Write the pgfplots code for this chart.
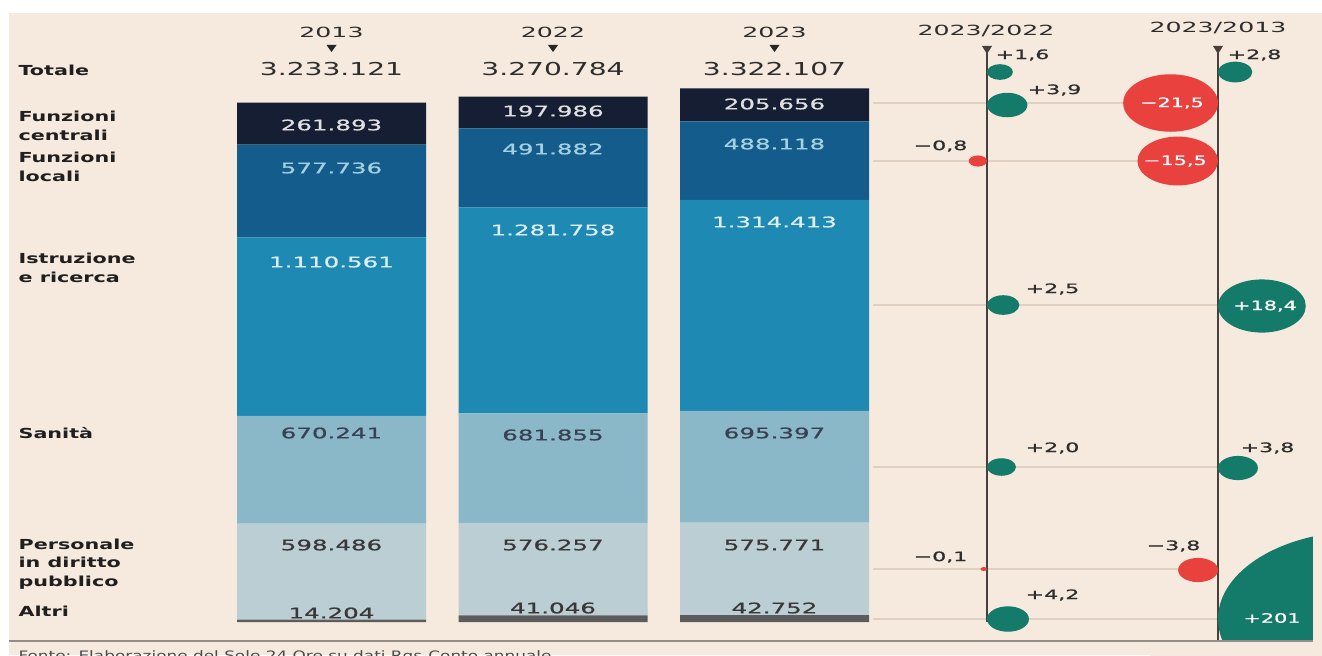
\documentclass[border=0pt]{standalone}
\usepackage{pgfplots}
\pgfplotsset{compat=1.18}
\usepackage{pgfplotstable}
\usepackage{fontspec}
\setmainfont{DejaVu Sans}
\newfontfamily\numfont[FakeBold=0.6]{DejaVu Sans}

\definecolor{bg}{RGB}{246,233,221}
\definecolor{cCentr}{RGB}{22,30,52}
\definecolor{cLoc}{RGB}{19,92,140}
\definecolor{cIstr}{RGB}{30,137,178}
\definecolor{cSan}{RGB}{138,184,200}
\definecolor{cPers}{RGB}{187,206,211}
\definecolor{cAltri}{RGB}{92,92,92}
\definecolor{tealc}{RGB}{20,122,106}
\definecolor{redc}{RGB}{232,65,62}
\definecolor{gridc}{RGB}{224,208,194}
\definecolor{axc}{RGB}{72,64,60}
\definecolor{txt}{RGB}{45,45,45}

% pixel -> point helper (1px = 0.5pt, y measured from top)
\newcommand{\px}[2]{({(#1)*0.5pt},{(655-(#2))*0.5pt})}

% elliptical bubble mark (the original graphic is stretched horizontally)
\pgfdeclareplotmark{ell}{%
  \pgfpathellipse{\pgfpointorigin}{\pgfqpoint{1.65\pgfplotmarksize}{0pt}}{\pgfqpoint{0pt}{\pgfplotmarksize}}%
  \pgfusepathqfill}

\pgfplotstableread{
x anno altri pers san istr loc centr
0 2013 14204 598486 670241 1110561 577736 261893
1 2022 41046 576257 681855 1281758 491882 197986
2 2023 42752 575771 695397 1314413 488118 205656
}\bars

% variations (%): column line position (px), row (px), value
\pgfplotstableread{
line y v
987 72 1.6
987 105 3.9
987 305 2.5
987 467 2.0
987 619 4.2
1218 72 2.8
1218 306 18.4
1218 468 3.8
1218 619 201
}\pospts
\pgfplotstableread{
line y v
987 161 -0.8
987 569 -0.1
1218 103 -21.5
1218 161 -15.5
1218 570 -3.8
}\negpts

\tikzset{
  yr/.style={font=\fontsize{7}{8}\selectfont, xscale=1.8, text=txt, inner sep=0pt},
  tot/.style={font=\fontsize{8.9}{10}\selectfont, xscale=1.58, text=txt, inner sep=0pt},
  rowlab/.style={font=\fontsize{6.9}{9.2}\selectfont\bfseries, xscale=1.5, anchor=west, align=left, text=black!88, inner sep=0pt},
  bl/.style={font=\fontsize{7.3}{8}\selectfont\numfont, xscale=1.68, inner sep=0pt},
  bub/.style={font=\fontsize{6.5}{7}\selectfont\numfont, xscale=1.7, anchor=west, text=txt, inner sep=0pt},
  bubin/.style={font=\fontsize{6.5}{7}\selectfont\numfont, xscale=1.6, text=white, inner sep=0pt},
}

\begin{document}
\begin{tikzpicture}
% background
\fill[white] \px{0}{0} rectangle \px{1322}{655};
\fill[bg] \px{9}{13} rectangle \px{1322}{655};

% horizontal guide lines
\foreach \yy in {103,161,305,467,569,619}{
  \draw[gridc, line width=0.8pt] \px{873}{\yy} -- \px{1218}{\yy};
}

% vertical reference lines with triangles
\draw[axc, line width=1pt] \px{987}{50} -- \px{987}{622};
\draw[axc, line width=1pt] \px{1218}{50} -- \px{1218}{641};
\fill[axc] \px{982}{46} -- \px{992}{46} -- \px{987}{54} -- cycle;
\fill[axc] \px{1213}{46} -- \px{1223}{46} -- \px{1218}{54} -- cycle;
\draw[axc, line width=0.6pt] \px{981}{569} -- \px{987}{569};

% header triangles
\foreach \cx in {331.5,553,774.5}{
  \fill[black!85] \px{\cx-5}{45} -- \px{\cx+5}{45} -- \px{\cx}{52} -- cycle;
}

% stacked bars
\begin{axis}[
  at={(110.375pt,16.5pt)}, anchor=south west,
  scale only axis, width=332.25pt, height=273.1pt,
  xmin=-0.5, xmax=2.5, ymin=0, ymax=3400000,
  hide axis, clip=false,
  ybar stacked, bar width=94.5pt,
]
\addplot[fill=cAltri, draw=none] table[x=x, y=altri] {\bars};
\addplot[fill=cPers, draw=none] table[x=x, y=pers] {\bars};
\addplot[fill=cSan, draw=none] table[x=x, y=san] {\bars};
\addplot[fill=cIstr, draw=none] table[x=x, y=istr] {\bars};
\addplot[fill=cLoc, draw=none] table[x=x, y=loc] {\bars};
\addplot[fill=cCentr, draw=none] table[x=x, y=centr] {\bars};
\end{axis}

% bubbles (pixel-unit axis)
\begin{axis}[
  at={(440pt,6.5pt)}, anchor=south west,
  scale only axis, width=270pt, height=314.5pt,
  xmin=880, xmax=1420, ymin=13, ymax=642, y dir=reverse,
  hide axis, clip=false,
]
\addplot[scatter, only marks, mark=ell,
  scatter/use mapped color={draw=none, fill=tealc},
  visualization depends on={3.1*sqrt(abs(\thisrow{v})) \as \msize},
  scatter/@pre marker code/.append style={/tikz/mark size=\msize}]
  table[x expr={\thisrow{line}+10.23*sqrt(abs(\thisrow{v}))}, y=y] {\pospts};
\addplot[scatter, only marks, mark=ell,
  scatter/use mapped color={draw=none, fill=redc},
  visualization depends on={3.1*sqrt(abs(\thisrow{v})) \as \msize},
  scatter/@pre marker code/.append style={/tikz/mark size=\msize}]
  table[x expr={\thisrow{line}-10.23*sqrt(abs(\thisrow{v}))}, y=y] {\negpts};
\end{axis}

% crop the large bubble as in the original
\fill[bg] \px{1313}{13} rectangle \px{1340}{700};
\fill[bg] \px{1150}{641} rectangle \px{1340}{700};
% footer separator
\draw[black!40!bg, line width=0.8pt] \px{9}{641} -- \px{1313}{641};

% ---------- texts ----------
% headers
\node[yr] at \px{331.5}{32} {2013};
\node[yr] at \px{553}{32} {2022};
\node[yr] at \px{774.5}{32} {2023};
\node[tot] at \px{331.5}{69} {3.233.121};
\node[tot] at \px{553}{69} {3.270.784};
\node[tot] at \px{774.5}{69} {3.322.107};
\node[yr] at \px{986}{31} {2023/2022};
\node[yr] at \px{1218}{28} {2023/2013};

% row labels
\node[rowlab] at \px{18}{70} {Totale};
\node[rowlab] at \px{18}{126} {Funzioni\\centrali};
\node[rowlab] at \px{18}{167} {Funzioni\\locali};
\node[rowlab] at \px{18}{268} {Istruzione\\e ricerca};
\node[rowlab] at \px{18}{433} {Sanità};
\node[rowlab] at \px{18}{564} {Personale\\in diritto\\pubblico};
\node[rowlab] at \px{18}{611} {Altri};

% bar labels 2013
\node[bl, text=black!12] at \px{331.5}{125} {261.893};
\node[bl, text=cIstr!40!white] at \px{331.5}{168} {577.736};
\node[bl, text=cIstr!15!white] at \px{331.5}{262} {1.110.561};
\node[bl, text=cCentr!85] at \px{331.5}{433} {670.241};
\node[bl, text=black!78] at \px{331.5}{545} {598.486};
\node[bl, text=black!78] at \px{331.5}{613} {14.204};
% 2022
\node[bl, text=black!12] at \px{553}{111} {197.986};
\node[bl, text=cIstr!40!white] at \px{553}{149} {491.882};
\node[bl, text=cIstr!15!white] at \px{553}{230} {1.281.758};
\node[bl, text=cCentr!85] at \px{553}{435} {681.855};
\node[bl, text=black!78] at \px{553}{545} {576.257};
\node[bl, text=black!78] at \px{553}{608} {41.046};
% 2023
\node[bl, text=black!12] at \px{774.5}{104} {205.656};
\node[bl, text=cIstr!40!white] at \px{774.5}{144} {488.118};
\node[bl, text=cIstr!15!white] at \px{774.5}{222} {1.314.413};
\node[bl, text=cCentr!85] at \px{774.5}{433} {695.397};
\node[bl, text=black!78] at \px{774.5}{545} {575.771};
\node[bl, text=black!78] at \px{774.5}{608} {42.752};

% bubble labels 2023/2022
\node[bub] at \px{995}{55} {+1,6};
\node[bub] at \px{1027}{90} {+3,9};
\node[bub] at \px{913}{146} {−0,8};
\node[bub] at \px{1025}{289} {+2,5};
\node[bub] at \px{1025}{448} {+2,0};
\node[bub] at \px{913}{557} {−0,1};
\node[bub] at \px{1025}{595} {+4,2};
% bubble labels 2023/2013
\node[bub] at \px{1227}{55} {+2,8};
\node[bubin] at \px{1172}{103} {−21,5};
\node[bubin] at \px{1175}{161} {−15,5};
\node[bubin] at \px{1265}{306} {+18,4};
\node[bub] at \px{1240}{448} {+3,8};
\node[bub] at \px{1146}{546} {−3,8};
\node[bubin] at \px{1272}{618} {+201};

% source (cut at the bottom edge as in the original)
\node[font=\fontsize{6.5}{7}\selectfont, xscale=1.3, anchor=west, text=black!70, inner sep=0pt] at \px{18}{657} {Fonte: Elaborazione del Sole 24 Ore su dati Rgs-Conto annuale};

\pgfresetboundingbox
\path[use as bounding box] (0,0) rectangle (661pt,327.5pt);
\end{tikzpicture}
\end{document}
